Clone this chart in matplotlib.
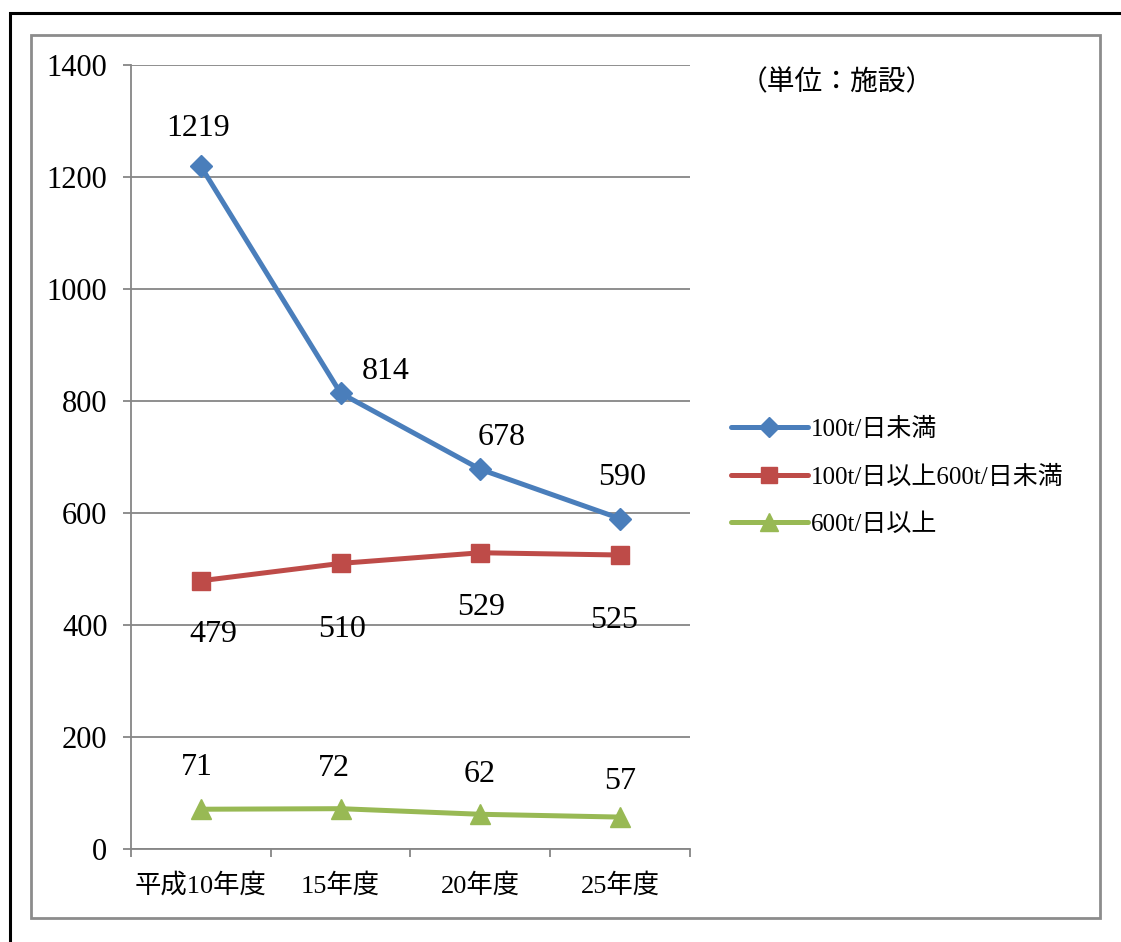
import matplotlib.pyplot as plt
from matplotlib.patches import Rectangle

plt.rcParams['font.family'] = ['Liberation Serif', 'Noto Sans CJK JP']

years = ["平成10年度", "15年度", "20年度", "25年度"]
small = [1219, 814, 678, 590]
medium = [479, 510, 529, 525]
large = [71, 72, 62, 57]
series_names = ["100t/日未満", "100t/日以上600t/日未満", "600t/日以上"]

colors = ["#4A7EBB", "#BE4B48", "#98B954"]
markers = ["D", "s", "^"]
msizes = [11, 13, 14]
# label offsets in pixels (dx, dy) for each point
offsets = [
    [(-3, 38), (45, 22), (21, 32), (2, 41)],
    [(12, -54), (1, -66), (1, -55), (-6, -66)],
    [(-4, 42), (-7, 40), (-1, 40), (0, 36)],
]

fig = plt.figure(figsize=(11.21, 9.42), dpi=100)
fig.patches.append(Rectangle((10 / 1121, -0.1), 1.2, (942 - 13) / 942 + 0.1,
                             transform=fig.transFigure, fill=False,
                             edgecolor="black", linewidth=2.2))
fig.patches.append(Rectangle((31 / 1121, 1 - 918 / 942), (1100 - 31) / 1121,
                             (918 - 35) / 942, transform=fig.transFigure,
                             fill=False, edgecolor="#8c8c8c", linewidth=2.0))

ax = fig.add_axes([131 / 1121, 1 - 849 / 942, (690 - 131) / 1121, (849 - 65) / 942])
x = list(range(len(years)))

for vals, name, c, m, ms, offs in zip([small, medium, large], series_names,
                                      colors, markers, msizes, offsets):
    ax.plot(x, vals, color=c, linewidth=3.6, marker=m, markersize=ms,
            label=name, solid_capstyle="round")
    for xi, v, (dx, dy) in zip(x, vals, offs):
        ax.annotate(str(v), (xi, v), xytext=(dx, dy), textcoords="offset pixels",
                    ha="center", va="center", fontsize=23)

ax.set_xlim(-0.5, 3.5)
ax.set_ylim(0, 1400)
ax.set_yticks(range(0, 1401, 200))
ax.set_xticks(x)
ax.set_xticklabels(years, fontsize=19)
ax.set_xticks([-0.5, 0.5, 1.5, 2.5, 3.5], minor=True)
ax.tick_params(axis="x", which="major", length=0, pad=17)
ax.tick_params(axis="x", which="minor", length=6, width=1.3, color="#868686",
               direction="out")
ax.tick_params(axis="y", length=6, width=1.3, color="#868686", labelsize=22, pad=11)
ax.yaxis.grid(True, color="#868686", linewidth=1.3)
ax.set_axisbelow(True)
for s in ["top", "right"]:
    ax.spines[s].set_visible(False)
for s in ["left", "bottom"]:
    ax.spines[s].set_color("#868686")
    ax.spines[s].set_linewidth(1.3)

fig.text(740 / 1121, 1 - 83 / 942, "（単位：施設）", fontsize=20,
         ha="left", va="center")

ax.legend(loc="center left", bbox_to_anchor=(708 / 1121, 1 - 477 / 942),
          bbox_transform=fig.transFigure, frameon=False, fontsize=18,
          handlelength=3.1, handletextpad=0.1, labelspacing=0.98,
          markerscale=0.9)

fig.savefig("out.png", dpi=100)
